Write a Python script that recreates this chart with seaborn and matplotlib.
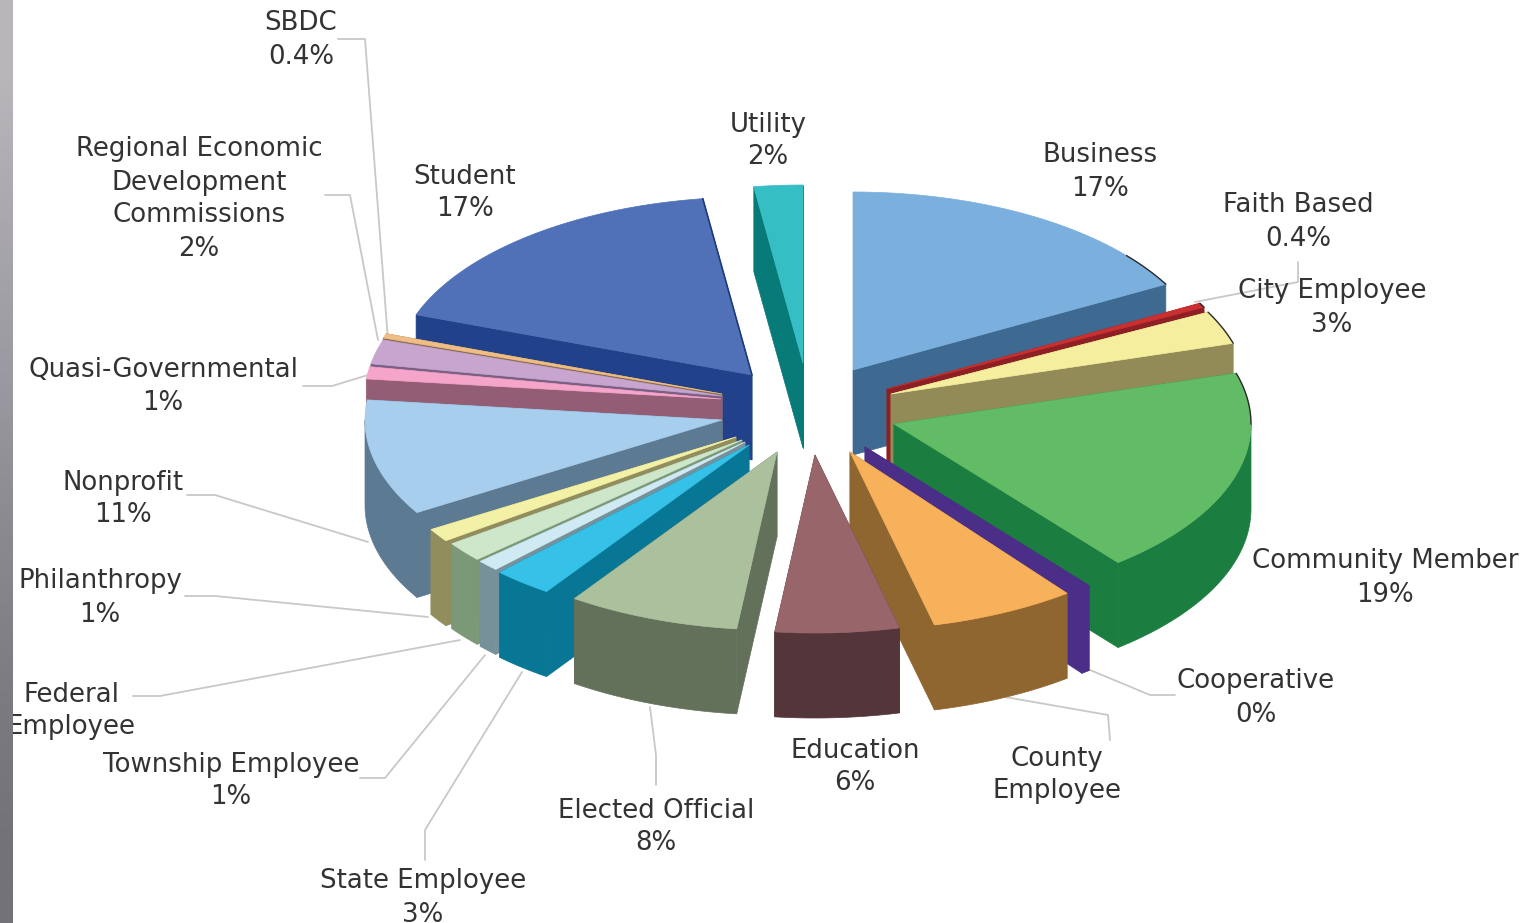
import numpy as np
import pandas as pd
import seaborn as sns
import matplotlib
matplotlib.use("Agg")
import matplotlib.pyplot as plt
from matplotlib.patches import Polygon

# Slices, clockwise from 12 o'clock
names = ["Business", "Faith Based", "City Employee", "Community Member", "Cooperative",
         "County Employee", "Education", "Elected Official", "State Employee",
         "Township Employee", "Federal Employee", "Philanthropy", "Nonprofit",
         "Quasi-Governmental", "Regional Economic Development Commissions", "SBDC",
         "Student", "Utility"]
values = [17, 0.4, 3, 18.8, 0.4, 6.6, 5.6, 7.8, 2.7, 1.0, 1.8, 1.2, 10.5, 1.1, 2.2, 0.4, 17.3, 2.2]

top_colors = ["#7BAFDE", "#C9302F", "#F5EE9E", "#62BC66", "#4B2E87", "#F7B15B", "#97656A",
              "#ABC19D", "#35C1E8", "#CFEAF2", "#CEE6CA", "#F3F1A6", "#A8CEEE", "#F4A5C9",
              "#C7A5CF", "#F0BE85", "#5071B8", "#36BEC5"]
side_colors = ["#3E6A92", "#8E1F24", "#928A57", "#1B7E40", "#4B2E87", "#8F6530", "#54363A",
               "#64715A", "#087795", "#76919A", "#7B9877", "#928D5C", "#5D7A93", "#935E75",
               "#7A5F87", "#8C6F4E", "#21428A", "#087A78"]

# Where each slice's tip ends up after exploding (pixels)
tip_x = [853, 887, 891, 894, 865, 850, 815, 777, 749, 745, 742, 736, 722, 721, 722, 722, 752, 803]
tip_y = [370, 389, 394, 424, 447, 452, 455, 452, 445, 442, 440, 437, 420, 399, 396, 394, 375, 363]

# back to front
draw_order = ["Utility", "Student", "Business", "SBDC", "Regional Economic Development Commissions",
              "Quasi-Governmental", "Faith Based", "City Employee", "Nonprofit",
              "Community Member", "Philanthropy", "Federal Employee", "Township Employee",
              "State Employee", "Elected Official", "Cooperative", "County Employee", "Education"]

labels = ["SBDC\n0.4%", "Regional Economic\nDevelopment\nCommissions\n2%", "Student\n17%", "Utility\n2%",
          "Business\n17%", "Faith Based\n0.4%", "City Employee\n3%", "Community Member\n19%",
          "Cooperative\n0%", "County\nEmployee", "Education\n6%", "Elected Official\n8%",
          "State Employee\n3%", "Township Employee\n1%", "Federal\nEmployee", "Philanthropy\n1%",
          "Nonprofit\n11%", "Quasi-Governmental\n1%"]
label_x = [301, 199, 465, 768, 1100, 1298, 1332, 1385, 1256, 1057, 855, 656, 423, 231, 71, 100, 123, 163]
label_y = [40, 199, 193, 141, 172, 222, 308, 578, 698, 775, 767, 827, 898, 781, 711, 598, 499, 387]

leaders = [
    [(338, 39), (365, 39), (388, 340)],
    [(325, 195), (350, 195), (378, 340)],
    [(303, 386), (332, 386), (368, 375)],
    [(187, 495), (215, 495), (368, 542)],
    [(185, 596), (215, 596), (428, 617)],
    [(133, 696), (160, 696), (460, 640)],
    [(360, 778), (385, 778), (485, 655)],
    [(425, 860), (425, 830), (522, 672)],
    [(656, 785), (656, 755), (650, 707)],
    [(1110, 740), (1108, 715), (1005, 697)],
    [(1175, 695), (1150, 695), (1090, 670)],
    [(1298, 262), (1298, 282), (1195, 302)],
]

strip_shades = ["#B8B6BB", "#A9A7AD", "#9A98A0", "#8A898F", "#7C7B81", "#737278"]

RX, RY, DEPTH = 357, 178, 85

df = pd.DataFrame({"name": names, "value": values, "top": top_colors, "side": side_colors,
                   "tx": tip_x, "ty": tip_y})
df["end"] = df["value"].cumsum() / df["value"].sum() * 2 * np.pi
df["start"] = df["end"].shift(fill_value=0.0)

sns.set_theme(style="white")
plt.rcParams["font.family"] = "DejaVu Sans"

fig = plt.figure(figsize=(15.25, 9.23), dpi=100, facecolor="white")
ax = fig.add_axes([0, 0, 1, 1])
ax.set_xlim(0, 1525)
ax.set_ylim(923, 0)
sns.despine(ax=ax, left=True, bottom=True)
ax.set_xticks([])
ax.set_yticks([])


def rim(row, a):
    return row.tx + RX * np.sin(a), row.ty - RY * np.cos(a)


def add_poly(xs, ys, color, z):
    ax.add_patch(Polygon(np.column_stack([xs, ys]), closed=True, facecolor=color,
                         edgecolor=color, linewidth=0.5, zorder=z))


for rank, name in enumerate(draw_order):
    row = df[df["name"] == name].iloc[0]
    z = 3 + rank * 0.1

    # cut faces
    for a in (row.start, row.end):
        ex, ey = rim(row, a)
        add_poly([row.tx, ex, ex, row.tx], [row.ty, ey, ey + DEPTH, row.ty + DEPTH], row.side, z)

    # outer wall, only the part that faces the viewer
    a0, a1 = max(row.start, np.pi / 2), min(row.end, 3 * np.pi / 2)
    if a1 > a0:
        arc = np.linspace(a0, a1, 40)
        ax_, ay_ = rim(row, arc)
        add_poly(np.r_[ax_, ax_[::-1]], np.r_[ay_, ay_[::-1] + DEPTH], row.side, z)

    # top
    arc = np.linspace(row.start, row.end, 80)
    ax_, ay_ = rim(row, arc)
    add_poly(np.r_[row.tx, ax_], np.r_[row.ty, ay_], row.top, z + 0.01)

    # dark shadow line on the far right of the rim
    b0, b1 = max(row.start, np.radians(50)), min(row.end, np.pi / 2)
    if b1 > b0:
        ax_, ay_ = rim(row, np.linspace(b0, b1, 20))
        ax.plot(ax_, ay_, color="#2A2A2A", lw=1.0, zorder=z + 0.02)

    # the Student slice has a dark line down its far cut edge
    if name == "Student":
        ex, ey = rim(row, row.end)
        ax.plot([ex, row.tx], [ey, row.ty], color="#1F3A78", lw=1.2, zorder=z + 0.02)

for pts in leaders:
    xs, ys = zip(*pts)
    ax.plot(xs, ys, color="#C8C8C8", lw=1.3, zorder=1)

for text, x, y in zip(labels, label_x, label_y):
    ax.text(x, y, text, ha="center", va="center", fontsize=18.7, color="#333333",
            linespacing=1.35, zorder=2)

# grey band down the left edge
shades = np.array([matplotlib.colors.to_rgb(c) for c in strip_shades])[:, None, :]
ax.imshow(shades, extent=(0, 13, 923, 0), aspect="auto", interpolation="bilinear", zorder=10)
ax.set_xlim(0, 1525)
ax.set_ylim(923, 0)

plt.savefig("out.png", dpi=100)
